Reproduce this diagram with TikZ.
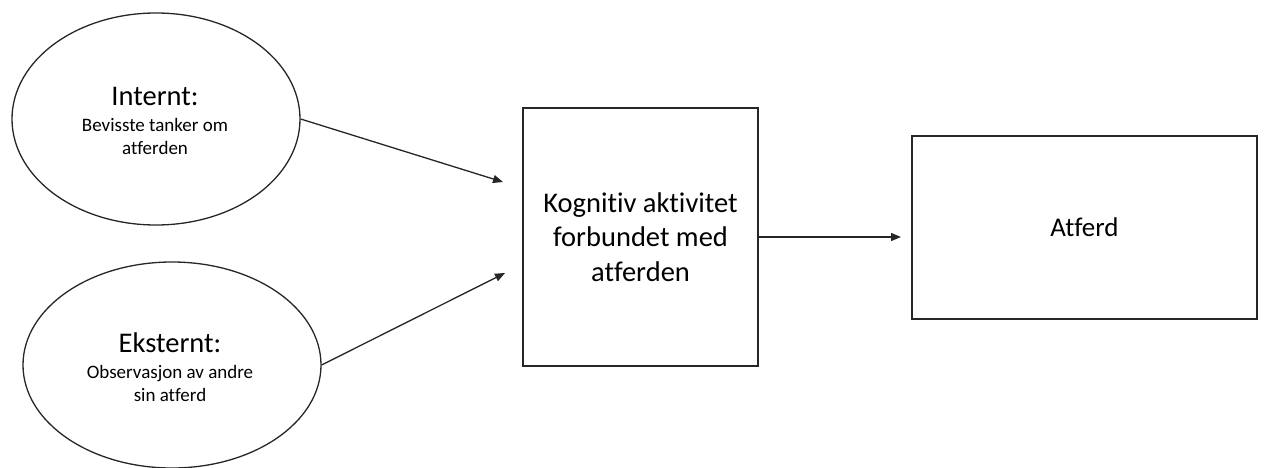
\documentclass[tikz,border=0pt]{standalone}
\usepackage{fontspec}
\setmainfont{Carlito}[Ligatures={NoCommon}]
\usetikzlibrary{shapes.geometric,arrows.meta}
\begin{document}
\begin{tikzpicture}[x=1pt,y=-1pt,
  outline/.style={draw=black!85,line width=1.3pt},
  oval/.style={outline,ellipse,inner sep=0pt,align=center},
  panel/.style={outline,rectangle,inner sep=0pt,align=center},
  link/.style={draw=black!85,line width=1.3pt,-{Triangle[length=10pt,width=8pt]}},
  big/.style={font=\fontsize{28.5}{34.5}\selectfont},
  small/.style={font=\fontsize{19}{22.5}\selectfont}]
  \useasboundingbox (0,0) rectangle (1287,468);
  % source ellipses
  \node[oval,minimum width=288pt,minimum height=212pt] (inn) at (156,119) {};
  \node[big,anchor=base] (innT) at (155,106) {Internt:};
  % a two-line node's base is its last line
  \node[small,align=center,anchor=base] (innS) at (155,154) {Bevisste tanker om\\atferden};
  \node[oval,minimum width=298pt,minimum height=206pt] (ext) at (172,365) {};
  \node[big,anchor=base] (extT) at (170,352) {Eksternt:};
  \node[small,align=center,anchor=base] (extS) at (170,401) {Observasjon av andre\\sin atferd};
  % processing box and outcome box
  \node[panel,big,minimum width=235pt,minimum height=258pt] (kog) at (640.5,237) {Kognitiv aktivitet\\forbundet med\\atferden};
  \node[panel,font=\fontsize{27}{33}\selectfont,minimum width=345pt,minimum height=183pt] (atf) at (1084.5,227.5) {Atferd};
  % arrow ends stop short of the boxes
  \coordinate (t1) at (503,182);
  \coordinate (t2) at (505,273);
  \coordinate (t3) at (901,237);
  \draw[link] (inn.east) -- (t1);
  \draw[link] (ext.east) -- (t2);
  \draw[link] (kog.east) -- (t3);
\end{tikzpicture}
\end{document}
